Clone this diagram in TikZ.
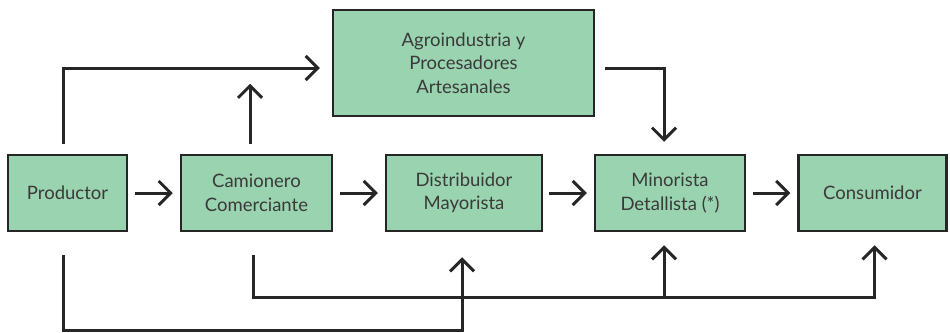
\documentclass[tikz,border=0pt]{standalone}
\usepackage{fontspec}
\setmainfont{Lato}
\usetikzlibrary{arrows.meta}
\definecolor{boxgreen}{RGB}{154,211,175}
\definecolor{txtgray}{RGB}{58,58,58}
\begin{document}
\begin{tikzpicture}[x=1pt, y=-1pt, >={Straight Barb[length=12pt,width=24pt]},
    main node/.style={rectangle, draw=black!85, line width=2.5pt, fill=boxgreen, align=center, inner sep=0pt, minimum height=76pt, text=txtgray},
    flow/.style={->, line width=3pt, black!85}]
        \tikzstyle{every node}=[font=\fontsize{18.5}{23.5}\selectfont]
        \useasboundingbox (0,0) rectangle (950,332);

          \node[main node, minimum width=119pt] (1) at (67.5,193) {Productor};
          \node[main node, minimum width=151pt] (2) at (256.5,193) {Camionero\\Comerciante};
          \node[main node, minimum width=156pt] (3) at (464,193) {Distribuidor\\Mayorista};
          \node[main node, minimum width=150pt] (4) at (670,193) {Minorista\\Detallista (*)};
          \node[main node, minimum width=148pt] (5) at (872.5,193) {Consumidor};
          \node[main node, minimum width=261pt, minimum height=106pt] (6) at (463.5,63) {Agroindustria y\\Procesadores\\Artesanales};

          % main chain
          \draw[flow] ([xshift=7pt]1.east) -- ([xshift=-7pt]2.west);
          \draw[flow] ([xshift=7pt]2.east) -- ([xshift=-7pt]3.west);
          \draw[flow] ([xshift=6pt]3.east) -- ([xshift=-7pt]4.west);
          \draw[flow] ([xshift=7pt]4.east) -- ([xshift=-7pt]5.west);

          % top
          \draw[flow] ([xshift=-4.5pt,yshift=10pt]1.north) |- ([xshift=-12pt,yshift=-5pt]6.west);
          \draw[flow] ([xshift=-6.5pt,yshift=10pt]2.north) -- ++(0,-60);
          \draw[flow] ([xshift=10pt,yshift=-5pt]6.east) -| ([xshift=-6pt,yshift=12pt]4.north);

          % bottom
          \draw[flow] ([xshift=-4.5pt,yshift=-23pt]1.south) -- ++(0,75) -| ([xshift=-2pt,yshift=-25pt]3.south);
          \draw[flow] ([xshift=-3.5pt,yshift=-23pt]2.south) -- ++(0,42) coordinate (low) -| ([xshift=2pt,yshift=-13pt]5.south);
          \draw[flow] ([xshift=-6pt]4.south |- low) -- ([xshift=-6pt,yshift=-13pt]4.south);

\end{tikzpicture}
\end{document}
